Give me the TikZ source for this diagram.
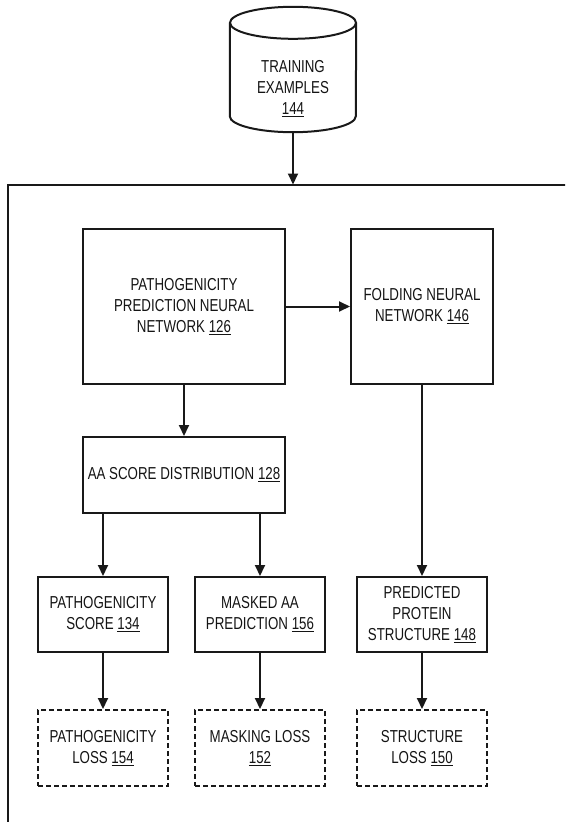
\documentclass[tikz,border=0pt]{standalone}
\usepackage{fontspec}
\setmainfont{Liberation Sans}[FakeStretch=0.77]
\usetikzlibrary{arrows.meta}

\begin{document}
\begin{tikzpicture}[x=1pt, y=-1pt,
every node/.style={font=\fontsize{17.3}{21}\selectfont, text=black!92},
block/.style={rectangle, draw=black!90, line width=2pt, align=center, inner sep=2pt},
netbox/.style={block, minimum width=202pt, minimum height=155pt},
distbox/.style={block, minimum width=202pt, minimum height=76pt},
outbox/.style={block, minimum width=130pt, minimum height=75pt},
lossbox/.style={block, dash pattern=on 5pt off 3pt, minimum width=130pt, minimum height=76pt},
database/.style={rectangle, align=center, inner sep=0pt, text height=90pt, text depth=0pt,
  minimum width=126pt, minimum height=125pt},
cyl/.style={draw=black!90, line width=2pt},
flow/.style={-{Triangle[length=11pt, width=10pt]}, draw=black!90, line width=2pt},
]
\useasboundingbox (0,0) rectangle (565,822);
\clip (0,0) rectangle (565,822);

% outer frame, runs past the page on the right and bottom
\draw[line width=2pt, draw=black!90] (8,840) |- (590,184.5);
\coordinate (frametop) at (291,184.5);

\node[database] (db) at (293,69.5) {TRAINING\\EXAMPLES\\\underline{144}};
% the cylinder round it
\draw[cyl] ([yshift=-16pt]db.north west) -- ([yshift=16pt]db.south west)
  arc[start angle=180, end angle=360, x radius=63pt, y radius=16pt]
  -- ([yshift=-16pt]db.north east);
\draw[cyl] ([yshift=-16pt]db.north) ellipse [x radius=63pt, y radius=16pt];

\node[netbox] (ppnn) at (184,306.5) {PATHOGENICITY\\PREDICTION NEURAL\\NETWORK \underline{126}};
\node[block, minimum width=142pt, minimum height=155pt] (fold) at (422,306.5) {FOLDING NEURAL\\NETWORK \underline{146}};
\node[distbox] (aa) at (184,475) {AA SCORE DISTRIBUTION \underline{128}};

\node[outbox] (score) at (103,614.5) {PATHOGENICITY\\SCORE \underline{134}};
\node[outbox] (masked) at (260,614.5) {MASKED AA\\PREDICTION \underline{156}};
\node[outbox] (pred) at (422,614.5) {PREDICTED\\PROTEIN\\STRUCTURE \underline{148}};

\node[lossbox] (patloss) at (103,748) {PATHOGENICITY\\LOSS \underline{154}};
\node[lossbox] (maskloss) at (260,748) {MASKING LOSS\\\underline{152}};
\node[lossbox] (structloss) at (422,748) {STRUCTURE\\LOSS \underline{150}};

\draw[flow] (db.south) -- (db.south |- frametop);
\draw[flow] (ppnn) -- (fold);
\draw[flow] (ppnn) -- (aa);
\draw[flow] (aa.south -| score.north) -- (score.north);
\draw[flow] (aa.south -| masked.north) -- (masked.north);
\draw[flow] (fold) -- (pred);
\draw[flow] (score) -- (patloss);
\draw[flow] (masked) -- (maskloss);
\draw[flow] (pred) -- (structloss);
\end{tikzpicture}
\end{document}
